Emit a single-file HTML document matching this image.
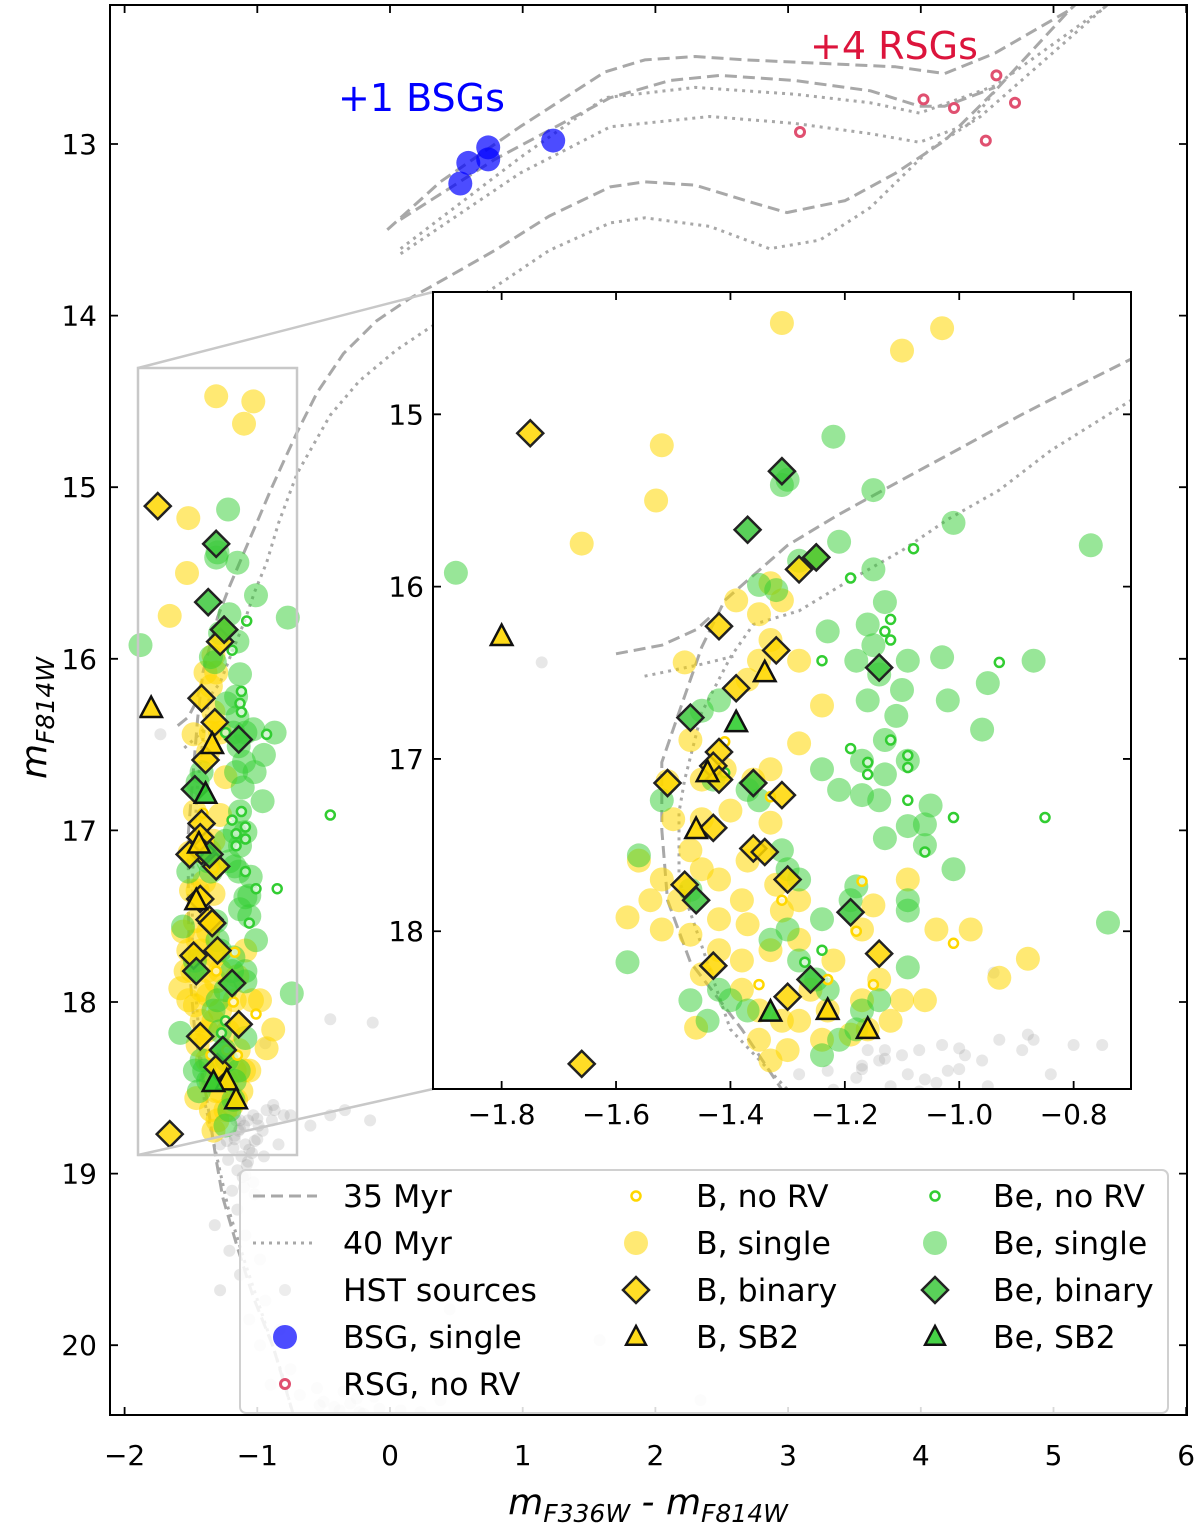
<!DOCTYPE html>
<html><head><meta charset="utf-8">
<style>
html,body{margin:0;padding:0;background:#fff;}
svg{display:block;font-family:"DejaVu Sans","Liberation Sans",sans-serif;}
</style></head>
<body>
<svg id="chart" xmlns="http://www.w3.org/2000/svg" width="1200" height="1531" viewBox="0 0 1200 1531">
<defs>
<clipPath id="clipMain"><rect x="110" y="5" width="1077" height="1410"/></clipPath>
<clipPath id="clipInset"><rect x="433" y="292" width="698" height="797"/></clipPath>
</defs>
<rect x="0" y="0" width="1200" height="1531" fill="#fff"/>
<g id="mainLayer" clip-path="url(#clipMain)"></g>
<g id="zoomLayer">
<rect x="138" y="368" width="159" height="787" fill="none" stroke="#c8c8c8" stroke-width="2.5"/>
<line x1="138" y1="368" x2="433" y2="292" stroke="#c8c8c8" stroke-width="2.5"/>
<line x1="138" y1="1155" x2="433" y2="1089" stroke="#c8c8c8" stroke-width="2.5"/>
</g>
<rect x="433" y="292" width="698" height="797" fill="#fff"/>
<g id="insetLayer" clip-path="url(#clipInset)"></g>
<rect x="433" y="292" width="698" height="797" fill="none" stroke="#000" stroke-width="2"/>
<rect x="110" y="5" width="1077" height="1410" fill="none" stroke="#000" stroke-width="2"/>
<g id="axes"></g>
<text x="338" y="111" font-size="38" fill="#0000ff">+1 BSGs</text>
<text x="810" y="59" font-size="38" fill="#dc143c">+4 RSGs</text>
<text x="648" y="1514" font-size="36" text-anchor="middle" font-style="italic">m<tspan font-size="25" dy="8">F336W</tspan><tspan dy="-8"> - m</tspan><tspan font-size="25" dy="8">F814W</tspan></text>
<text transform="translate(46,718) rotate(-90)" font-size="36" text-anchor="middle" font-style="italic">m<tspan font-size="25" dy="8">F814W</tspan></text>
<g id="legend">
<rect x="240" y="1170" width="928" height="243" rx="6" fill="#fff" fill-opacity="0.85" stroke="#d0d0d0" stroke-width="2"/>
</g>
</svg>
<script>
// ---------- data ----------
const iso35Main=[[-0.68,20.5],[-0.73,20.40],[-0.88,20.01],[-1.03,19.72],[-1.15,19.43],[-1.26,19.14],[-1.31,18.92],[-1.38,18.57],[-1.47,18.18],[-1.51,17.82],[-1.52,17.41],[-1.52,17.02],[-1.49,16.73],[-1.45,16.35],[-1.41,16.08],[-1.30,15.76],[-1.21,15.58],[-1.10,15.38],[-1.00,15.20],[-0.89,15.00],[-0.79,14.83],[-0.70,14.68],[-0.55,14.45],[-0.35,14.22],[-0.10,14.03],[0.15,13.90],[0.45,13.77],[0.79,13.62],[1.20,13.42],[1.66,13.25],[1.92,13.22],[2.30,13.24],[2.68,13.33],[2.99,13.40],[3.43,13.33],[3.81,13.17],[4.18,12.98],[4.56,12.69],[5.12,12.22],[5.35,12.05]];
const iso35Hook=[[-1.60,16.39],[-1.52,16.34],[-1.46,16.25],[-1.43,16.16]];
const iso35LoopA=[[-0.02,13.50],[0.38,13.22],[0.98,12.90],[1.62,12.58],[1.92,12.51],[2.30,12.49],[2.68,12.51],[3.24,12.53],[3.81,12.55],[4.18,12.59],[4.56,12.47],[5.12,12.22],[5.35,12.05]];
const iso35LoopB=[[0.08,13.44],[0.79,13.09],[1.66,12.73],[2.11,12.63],[2.49,12.60],[3.05,12.63],[3.62,12.69],[3.99,12.78],[4.18,12.78],[4.56,12.67]];
const iso40Main=[[-0.70,20.5],[-0.80,20.2],[-0.95,19.85],[-1.10,19.5],[-1.22,19.2],[-1.30,18.92],[-1.40,18.57],[-1.49,17.70],[-1.49,17.31],[-1.48,17.12],[-1.45,16.73],[-1.40,16.41],[-1.36,16.22],[-1.28,16.14],[-1.19,15.96],[-1.10,15.79],[-1.02,15.61],[-0.93,15.44],[-0.84,15.21],[-0.70,14.92],[-0.45,14.58],[-0.23,14.38],[0.05,14.20],[0.30,14.07],[0.72,13.87],[1.20,13.62],[1.66,13.46],[1.92,13.43],[2.41,13.48],[2.86,13.61],[3.24,13.56],[3.62,13.37],[4.07,13.03],[4.45,12.84],[5.39,12.20],[5.6,12.05]];
const iso40Hook=[[-1.55,16.52],[-1.45,16.45],[-1.39,16.40]];
const iso40LoopA=[[0.08,13.61],[0.98,13.08],[1.62,12.73],[2.30,12.67],[3.05,12.71],[3.62,12.76],[3.99,12.82],[4.56,12.66],[5.39,12.20]];
const iso40LoopB=[[0.08,13.64],[0.98,13.17],[1.66,12.90],[2.41,12.84],[3.05,12.88],[3.62,12.94],[3.99,12.99],[4.37,12.88],[4.56,12.69]];

const hstColor=[-1.13,-1.17,-1.06,-1.22,-1.09,-1.19,-1.02,-1.15,-1.32,-1.09,-1.21,-0.98,-1.13,-1.28,-0.94,-1.06,-0.83,-0.98,-0.75,-0.90,-0.68,-0.53,-0.38,-0.23,-0.08,0.08,0.23,-0.45,-0.34,-0.15,-0.45,-0.87,-0.75,-0.60,-1.73,0.45,1.58,2.34,-0.13,0.38,-1.28,-1.23,-1.17,-1.14,-1.10,-1.07,-1.03,-1.00,-0.96,-0.93,-0.89,-0.84,-0.80,-0.88,-1.02,-0.94,-1.09,-1.16,-1.12,-1.08,-1.04,-1.00,-1.15,-1.11,-1.07,-1.03,-1.18,-1.13,-0.95,-0.99,-1.10,-0.50,-0.42,-0.30,-0.20,-0.12,-0.35,-0.55,-0.25];
const hstMag=[18.69,18.80,18.86,18.92,19.01,19.10,19.12,19.21,19.30,19.36,19.45,19.50,19.59,19.68,19.74,19.85,19.91,20.00,20.14,20.23,20.29,20.35,20.38,20.39,20.37,20.38,20.39,18.66,18.63,18.69,18.10,18.63,18.66,18.72,16.44,19.79,19.97,20.32,18.12,20.32,18.83,18.81,18.78,18.75,18.72,18.69,18.66,18.68,18.75,18.63,18.69,18.83,18.66,18.60,18.81,18.24,18.83,18.69,18.90,18.95,18.88,18.80,18.98,19.02,18.93,19.05,18.85,18.74,18.90,18.72,19.08,20.33,20.36,20.34,20.40,20.30,20.27,20.25,20.31];

const bSingleColor=[-1.31,-1.03,-1.10,-1.52,-1.53,-1.66,-1.33,-1.35,-1.33,-1.48,-1.39,-1.24,-1.28,-1.33,-1.36,-1.51,-1.40,-1.45,-1.50,-1.33,-1.47,-1.45,-1.52,-1.49,-1.42,-1.37,-1.32,-1.38,-1.58,-1.52,-1.47,-1.42,-1.37,-1.31,-1.28,-1.33,-1.28,-1.22,-1.17,-1.15,-1.09,-1.04,-0.98,-0.93,-0.88,-1.14,-1.10,-1.06,-1.17,-1.23,-1.28,-1.35,-1.38,-1.45,-1.46,-1.35,-1.30,-1.24,-1.19,-1.16,-1.12,-1.33,-1.31,-1.26,-1.38,-1.42,-1.54,-1.56,-1.45,-1.47,-1.41,-1.37,-1.35,-1.28,-1.31];
const bSingleMag=[14.47,14.50,14.63,15.18,15.50,15.75,15.98,16.16,16.31,16.44,16.08,16.69,16.91,17.06,17.12,17.13,17.30,17.35,17.35,17.37,17.53,17.64,17.70,17.82,17.70,17.59,17.73,17.82,17.92,17.99,18.02,17.93,17.96,17.88,17.82,18.11,18.05,18.17,17.99,17.85,17.70,17.99,17.99,18.27,18.16,18.28,18.40,18.40,18.40,18.46,18.52,18.46,18.34,18.25,18.56,18.63,18.69,18.63,18.60,18.57,18.52,18.75,18.52,18.34,18.17,18.11,17.82,17.59,17.12,16.89,17.06,16.54,16.43,16.43,16.08];

const beSingleColor=[-1.88,-1.22,-1.15,-1.01,-1.31,-1.32,-1.28,-1.21,-1.15,-1.13,-1.23,-1.15,-1.18,-1.14,-1.09,-1.10,-1.16,-1.11,-1.13,-1.09,-1.17,-1.13,-1.17,-1.14,-1.21,-1.24,-1.03,-0.95,-0.87,-0.77,-0.96,-1.02,-1.13,-1.09,-1.06,-1.06,-1.01,-1.05,-1.09,-1.18,-1.19,-1.28,-1.30,-0.74,-1.58,-1.56,-1.52,-1.37,-1.42,-1.45,-1.43,-1.35,-1.47,-1.42,-1.40,-1.37,-1.28,-1.25,-1.23,-1.30,-1.33,-1.24,-1.14,-1.18,-1.24,-1.47,-1.44,-1.17,-1.21,-1.30,-1.35,-1.16,-1.09,-1.09,-1.31];
const beSingleMag=[15.92,15.13,15.44,15.63,15.41,16.02,15.85,15.74,15.90,16.09,16.26,16.34,16.43,16.51,16.43,16.60,16.66,16.75,16.89,17.01,17.01,17.09,17.21,17.24,17.18,17.06,16.41,16.56,16.43,15.76,16.83,16.66,17.46,17.39,17.38,17.50,17.64,17.27,17.88,17.74,17.82,17.70,17.64,17.95,18.18,17.56,17.24,17.18,16.66,16.72,17.12,17.24,17.76,18.34,18.40,18.46,18.17,18.28,18.34,17.99,18.05,17.93,18.40,18.57,18.72,18.40,18.52,18.46,18.63,15.38,15.99,16.22,17.82,18.21,17.53];

const bNoRVColor=[-1.41,-1.33,-1.17,-1.18,-1.01,-1.15,-1.23,-1.35,-1.31];
const bNoRVMag=[16.90,17.22,17.71,18.00,18.07,18.31,18.28,18.31,17.82];
const beNoRVColor=[-1.08,-1.19,-1.12,-1.13,-1.12,-0.93,-1.24,-1.19,-1.16,-1.12,-1.09,-1.09,-1.16,-1.09,-1.01,-0.85,-1.06,-1.41,-1.27,-1.24,-0.45];
const beNoRVMag=[15.78,15.95,16.19,16.26,16.31,16.44,16.43,16.94,17.02,16.89,16.98,17.05,17.09,17.24,17.34,17.34,17.54,17.08,18.18,18.11,16.91];

const bBinaryColor=[-1.75,-1.42,-1.32,-1.39,-1.42,-1.43,-1.42,-1.51,-1.31,-1.43,-1.36,-1.34,-1.30,-1.48,-1.43,-1.30,-1.14,-1.66,-1.28,-1.25];
const bBinaryMag=[15.11,16.23,16.37,16.59,16.96,17.04,17.12,17.14,17.21,17.40,17.52,17.54,17.70,17.73,18.20,18.38,18.13,18.77,15.90,15.83];
const beBinaryColor=[-1.31,-1.37,-1.25,-1.14,-1.47,-1.36,-1.46,-1.26,-1.19];
const beBinaryMag=[15.33,15.67,15.83,16.47,16.76,17.14,17.82,18.28,17.89];
const bSB2Color=[-1.80,-1.34,-1.44,-1.46,-1.23,-1.16];
const bSB2Mag=[16.29,16.50,17.08,17.41,18.46,18.57];
const beSB2Color=[-1.39,-1.33];
const beSB2Mag=[16.79,18.47];

const bsgColor=[0.53,0.59,0.74,0.74,1.23];
const bsgMag=[13.23,13.11,13.02,13.09,12.98];
const rsgColor=[3.09,4.02,4.25,4.57,4.71,4.49];
const rsgMag=[12.93,12.74,12.79,12.60,12.76,12.98];

const mainXTicks=[-2,-1,0,1,2,3,4,5,6];
const mainYTicks=[13,14,15,16,17,18,19,20];
const insetXTicks=[-1.8,-1.6,-1.4,-1.2,-1.0,-0.8];
const insetYTicks=[15,16,17,18];

// ---------- scales ----------
const NS='http://www.w3.org/2000/svg';
const mainX=v=>390+v*132.7;
const mainY=v=>144+(v-13)*171.6;
const insX=v=>433+(v+1.92)*572;
const insY=v=>292+(v-14.29)*172.3;

function mk(tag,attrs,parent){const e=document.createElementNS(NS,tag);for(const k in attrs)e.setAttribute(k,attrs[k]);parent.appendChild(e);return e;}

function line(pts,sx,sy,dash,parent,name){
  const d=pts.map((p,i)=>(i?'L':'M')+sx(p[0]).toFixed(1)+' '+sy(p[1]).toFixed(1)).join(' ');
  const e=mk('path',{d:d,fill:'none',stroke:'#a8a8a8','stroke-width':3,'stroke-dasharray':dash,'stroke-linejoin':'round'},parent);
  
  
}
function circ(cx,cy,r,attrs,parent,name){
  const e=mk('circle',Object.assign({cx:cx.toFixed(1),cy:cy.toFixed(1),r:r},attrs),parent);
  
  
  return e;
}
function diamond(cx,cy,s,fill,parent,name){
  const e=mk('path',{d:`M${cx} ${cy-s}L${cx+s} ${cy}L${cx} ${cy+s}L${cx-s} ${cy}Z`,fill:fill,'fill-opacity':0.85,stroke:'#222','stroke-width':2.5,'stroke-linejoin':'miter'},parent);
  
  
}
function tri(cx,cy,s,fill,parent,name){
  const e=mk('path',{d:`M${cx} ${cy-s}L${cx+s*0.9} ${cy+s*0.7}L${cx-s*0.9} ${cy+s*0.7}Z`,fill:fill,'fill-opacity':0.9,stroke:'#111','stroke-width':2.5,'stroke-linejoin':'miter'},parent);
  
  
}

function drawPanel(g,sx,sy){
  for(let i=0;i<hstColor.length;i++) circ(sx(hstColor[i]),sy(hstMag[i]),6,{fill:'#888','fill-opacity':0.2},g,'hst-source');
  line(iso35Main,sx,sy,'12 6',g,'isochrone-35myr');
  line(iso35Hook,sx,sy,'12 6',g,'isochrone-35myr-hook');
  line(iso35LoopA,sx,sy,'12 6',g,'isochrone-35myr-loop');
  line(iso35LoopB,sx,sy,'12 6',g,'isochrone-35myr-loop');
  line(iso40Main,sx,sy,'3 5',g,'isochrone-40myr');
  line(iso40Hook,sx,sy,'3 5',g,'isochrone-40myr-hook');
  line(iso40LoopA,sx,sy,'3 5',g,'isochrone-40myr-loop');
  line(iso40LoopB,sx,sy,'3 5',g,'isochrone-40myr-loop');
  for(let i=0;i<bSingleColor.length;i++) circ(sx(bSingleColor[i]),sy(bSingleMag[i]),12,{fill:'#ffd700','fill-opacity':0.55},g,'b-single-star');
  for(let i=0;i<beSingleColor.length;i++) circ(sx(beSingleColor[i]),sy(beSingleMag[i]),12,{fill:'#32cd32','fill-opacity':0.5},g,'be-single-star');
  for(let i=0;i<bNoRVColor.length;i++) circ(sx(bNoRVColor[i]),sy(bNoRVMag[i]),4.5,{fill:'#fff','fill-opacity':0.6,stroke:'#ffd700','stroke-width':2.5},g,'b-norv-star');
  for(let i=0;i<beNoRVColor.length;i++) circ(sx(beNoRVColor[i]),sy(beNoRVMag[i]),4.5,{fill:'#fff','fill-opacity':0.6,stroke:'#32cd32','stroke-width':2.5},g,'be-norv-star');
  for(let i=0;i<bBinaryColor.length;i++) diamond(sx(bBinaryColor[i]),sy(bBinaryMag[i]),13,'#ffd700',g,'b-binary-star');
  for(let i=0;i<beBinaryColor.length;i++) diamond(sx(beBinaryColor[i]),sy(beBinaryMag[i]),13,'#3cc83c',g,'be-binary-star');
  for(let i=0;i<bSB2Color.length;i++) tri(sx(bSB2Color[i]),sy(bSB2Mag[i]),12,'#ffd700',g,'b-sb2-star');
  for(let i=0;i<beSB2Color.length;i++) tri(sx(beSB2Color[i]),sy(beSB2Mag[i]),12,'#32cd32',g,'be-sb2-star');
  for(let i=0;i<bsgColor.length;i++) circ(sx(bsgColor[i]),sy(bsgMag[i]),12,{fill:'#0000ff','fill-opacity':0.7},g,'bsg-star');
  for(let i=0;i<rsgColor.length;i++) circ(sx(rsgColor[i]),sy(rsgMag[i]),4.5,{fill:'#fff',stroke:'#e05070','stroke-width':3},g,'rsg-star');
}
drawPanel(document.getElementById('mainLayer'),mainX,mainY);
drawPanel(document.getElementById('insetLayer'),insX,insY);

// ---------- axes ----------
const ax=document.getElementById('axes');
function fmt(v,d){const s=v.toFixed(d);return v<0?'\u2212'+s.slice(1):s;}
mainXTicks.forEach(v=>{
  const x=mainX(v);
  let e=mk('path',{d:`M${x} 1415v-8M${x} 5v8`,stroke:'#000','stroke-width':1.8},ax);
  
  
  const t=mk('text',{x:x,y:1465,'font-size':28,'text-anchor':'middle'},ax);t.textContent=fmt(v,0);
  
  
});
mainYTicks.forEach(v=>{
  const y=mainY(v);
  let e=mk('path',{d:`M110 ${y}h8M1187 ${y}h-8`,stroke:'#000','stroke-width':1.8},ax);
  
  
  const t=mk('text',{x:97,y:y+10,'font-size':28,'text-anchor':'end'},ax);t.textContent=fmt(v,0);
  
  
});
insetXTicks.forEach(v=>{
  const x=insX(v);
  let e=mk('path',{d:`M${x} 1089v-8M${x} 292v8`,stroke:'#000','stroke-width':1.8},ax);
  
  
  const t=mk('text',{x:x,y:1124,'font-size':28,'text-anchor':'middle'},ax);t.textContent=fmt(v,1);
  
  
});
insetYTicks.forEach(v=>{
  const y=insY(v);
  let e=mk('path',{d:`M433 ${y}h8M1131 ${y}h-8`,stroke:'#000','stroke-width':1.8},ax);
  
  
  const t=mk('text',{x:424,y:y+10,'font-size':28,'text-anchor':'end'},ax);t.textContent=fmt(v,0);
  
  
});

// ---------- legend ----------
const lg=document.getElementById('legend');
function ltext(x,y,s){const t=mk('text',{x:x,y:y+11,'font-size':31.5},lg);t.textContent=s;
  
  }
const rows=[1196,1243,1290,1337,1384];
let e;
e=mk('path',{d:`M253 ${rows[0]}h64`,stroke:'#a8a8a8','stroke-width':3,'stroke-dasharray':'12 6'},lg);


ltext(343,rows[0],'35 Myr');
e=mk('path',{d:`M253 ${rows[1]}h64`,stroke:'#a8a8a8','stroke-width':3,'stroke-dasharray':'3 5'},lg);


ltext(343,rows[1],'40 Myr');
circ(285,rows[2],6,{fill:'#888','fill-opacity':0.15},lg,'legend-hst-marker');ltext(343,rows[2],'HST sources');
circ(285,rows[3],12,{fill:'#0000ff','fill-opacity':0.7},lg,'legend-bsg-marker');ltext(343,rows[3],'BSG, single');
circ(285,rows[4],4.5,{fill:'#fff',stroke:'#e05070','stroke-width':3},lg,'legend-rsg-marker');ltext(343,rows[4],'RSG, no RV');
circ(636,rows[0],4.5,{fill:'#fff',stroke:'#ffd700','stroke-width':2.5},lg,'legend-b-norv-marker');ltext(696,rows[0],'B, no RV');
circ(636,rows[1],12,{fill:'#ffd700','fill-opacity':0.55},lg,'legend-b-single-marker');ltext(696,rows[1],'B, single');
diamond(636,rows[2],13,'#ffd700',lg,'legend-b-binary-marker');ltext(696,rows[2],'B, binary');
tri(636,rows[3],11,'#ffd700',lg,'legend-b-sb2-marker');ltext(696,rows[3],'B, SB2');
circ(935,rows[0],4.5,{fill:'#fff',stroke:'#32cd32','stroke-width':2.5},lg,'legend-be-norv-marker');ltext(993,rows[0],'Be, no RV');
circ(935,rows[1],12,{fill:'#32cd32','fill-opacity':0.5},lg,'legend-be-single-marker');ltext(993,rows[1],'Be, single');
diamond(935,rows[2],13,'#3cc83c',lg,'legend-be-binary-marker');ltext(993,rows[2],'Be, binary');
tri(935,rows[3],11,'#32cd32',lg,'legend-be-sb2-marker');ltext(993,rows[3],'Be, SB2');
</script>
</body></html>
